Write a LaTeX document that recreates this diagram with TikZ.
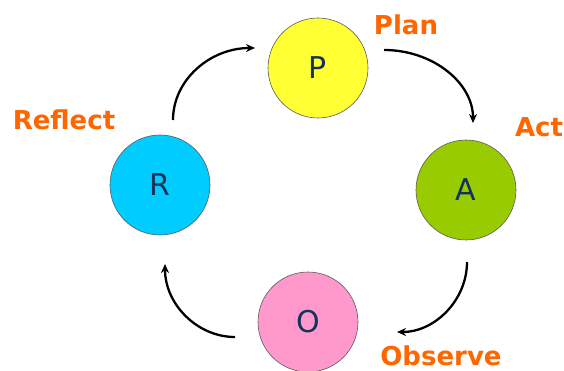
\documentclass[tikz,border=0pt]{standalone}
\usepackage{fontspec}
\setmainfont{DejaVu Sans}
\usetikzlibrary{arrows.meta}
\definecolor{pyellow}{RGB}{255,255,51}
\definecolor{agreen}{RGB}{153,204,0}
\definecolor{rcyan}{RGB}{0,204,255}
\definecolor{opink}{RGB}{255,153,204}
\definecolor{lblorange}{RGB}{255,102,0}
\definecolor{letnavy}{RGB}{20,50,90}
\definecolor{rimgray}{RGB}{90,90,90}
\tikzset{
  stage/.style={circle, draw=rimgray, line width=0.6pt, minimum size=100pt, inner sep=0pt,
    text=letnavy, font=\fontsize{30}{30}\selectfont},
  lbl/.style={text=lblorange, font=\fontsize{26}{26}\selectfont\bfseries, inner sep=0pt},
  cyc/.style={line width=2.3pt, -{Stealth[length=9pt,width=8pt]}}
}
\begin{document}
\begin{tikzpicture}[x=1pt,y=-1pt]
\useasboundingbox (0,0) rectangle (564,371);
\node[stage, fill=pyellow] (P) at (318,68) {P};
\node[stage, fill=agreen] (A) at (466,190) {A};
\node[stage, fill=rcyan] (R) at (160,185) {R};
\node[stage, fill=opink] (O) at (308,322) {O};
\node[lbl] (plan) at (406,25) {Plan};
\node[lbl] (act) at (539,127) {Act};
\node[lbl] (reflect) at (64,120) {Reflect};
\node[lbl] (observe) at (441,356) {Observe};
\coordinate (rp1) at (173,120);
\coordinate (rp2) at (255,48);
\coordinate (pa1) at (384,50);
\coordinate (pa2) at (473,123);
\coordinate (ao1) at (467,262);
\coordinate (ao2) at (397,332);
\coordinate (or1) at (235,337);
\coordinate (or2) at (165,264);
\draw[cyc] (rp1) .. controls (173,80) and (210,48) .. (rp2);
\draw[cyc] (pa1) .. controls (433,50) and (473,83) .. (pa2);
\draw[cyc] (ao1) .. controls (467,300) and (435,332) .. (ao2);
\draw[cyc] (or1) .. controls (197,337) and (165,304) .. (or2);
\end{tikzpicture}
\end{document}
